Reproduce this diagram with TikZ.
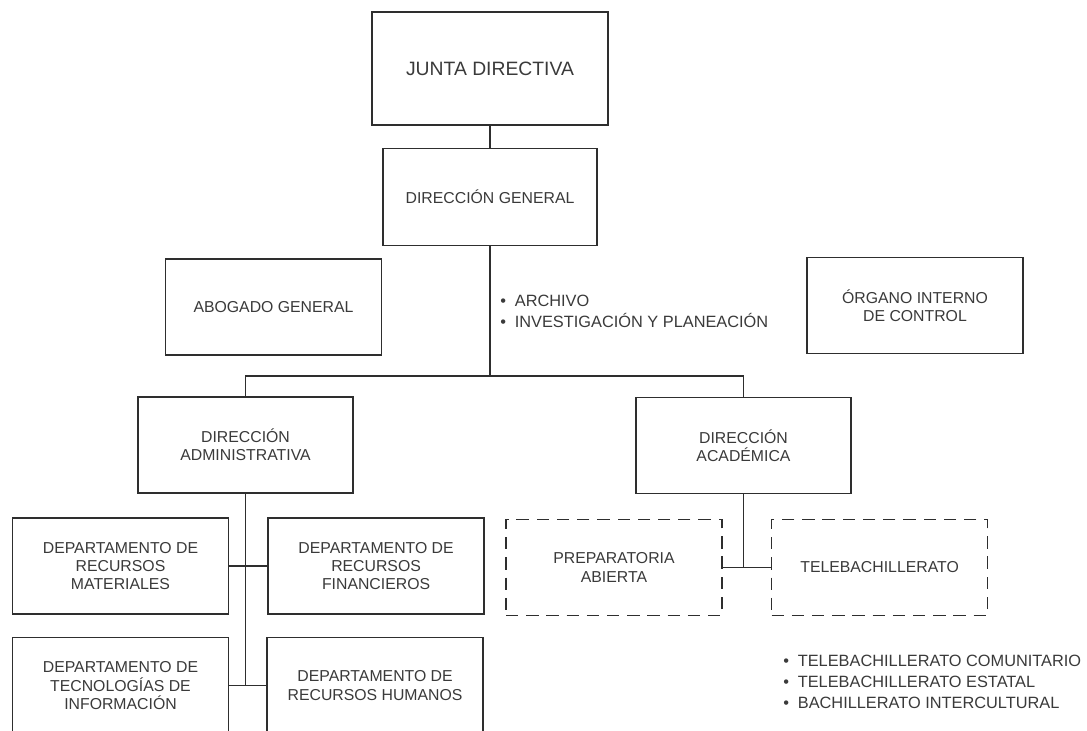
\documentclass[tikz,border=0pt]{standalone}
\usepackage{fontspec}
\setmainfont{Liberation Sans}
\usetikzlibrary{positioning}
\definecolor{linea}{HTML}{2E2E2E}
\definecolor{texto}{HTML}{3A3A3A}
\tikzset{
  unidad/.style={
    draw=linea,
    line width=0.9pt,
    rectangle,
    minimum width=4.32cm,
    minimum height=1.92cm,
    inner sep=2pt,
    align=center,
    text=texto,
    font=\fontsize{9}{10.4}\selectfont
  },
  programa/.style={
    unidad,
    dash pattern=on 7pt off 4.5pt
  },
  lista/.style={
    anchor=west,
    inner sep=0pt,
    align=left,
    text=texto,
    font=\fontsize{9.3}{12}\selectfont
  },
  enlace/.style={
    draw=linea,
    line width=0.9pt
  }
}

\begin{document}
\begin{tikzpicture}
      \useasboundingbox (0,0) rectangle (21.74,-14.62);
      \clip (0,0) rectangle (21.74,-14.62);
      \fill[white] (0,0) rectangle (21.74,-14.62);

      \node[unidad, minimum width=4.72cm, minimum height=2.26cm, font=\fontsize{11}{12}\selectfont] (junta) at (9.80,-1.37) {JUNTA DIRECTIVA};
      \node[unidad, below=0.44cm of junta, minimum width=4.28cm, minimum height=1.94cm] (general) {DIRECCIÓN GENERAL};

      \node[unidad] (abogado) at (5.47,-6.14) {ABOGADO GENERAL};
      \node[unidad] (organo) at (18.30,-6.11) {ÓRGANO INTERNO\\DE CONTROL};
      \coordinate (bus) at (9.80,-7.52);

      \node[unidad, minimum width=4.30cm] (admin) at (4.91,-8.90) {DIRECCIÓN\\ADMINISTRATIVA};
      \node[unidad, minimum width=4.30cm] (academica) at (14.87,-8.91) {DIRECCIÓN\\ACADÉMICA};

      \node[unidad] (materiales) at (2.41,-11.32) {DEPARTAMENTO DE\\RECURSOS\\MATERIALES};
      \node[unidad, right=0.76cm of materiales] (financieros) {DEPARTAMENTO DE\\RECURSOS\\FINANCIEROS};
      \node[unidad, below=0.44cm of materiales] (tecnologias) {DEPARTAMENTO DE\\TECNOLOGÍAS DE\\INFORMACIÓN};
      \node[unidad, right=0.74cm of tecnologias] (humanos) {DEPARTAMENTO DE\\RECURSOS HUMANOS};

      \node[programa] (preparatoria) at (12.28,-11.35) {PREPARATORIA\\ABIERTA};
      \node[programa, right=0.96cm of preparatoria] (telebach) {TELEBACHILLERATO};

      % Listas
      \node[lista] (apoyo) at (10.00,-6.23) {\textbullet\hspace{5pt}ARCHIVO\\\textbullet\hspace{5pt}INVESTIGACIÓN Y PLANEACIÓN};
      \node[lista] (modalidades) at (15.66,-13.63) {\textbullet\hspace{5pt}TELEBACHILLERATO COMUNITARIO\\\textbullet\hspace{5pt}TELEBACHILLERATO ESTATAL\\\textbullet\hspace{5pt}BACHILLERATO INTERCULTURAL};

      % Líneas
      \draw[enlace] (junta) -- (general);
      \draw[enlace] (general) -- (bus);
      \draw[enlace] (admin.north) |- (bus) -| (academica.north);

      \draw[enlace] (admin.south) -- (admin.south |- humanos.west);
      \draw[enlace] (materiales) -- (financieros);
      \draw[enlace] (tecnologias) -- (humanos);

      \draw[enlace] (academica.south) -- (academica.south |- telebach.west);
      \draw[enlace] (preparatoria) -- (telebach);
    \end{tikzpicture}
\end{document}
